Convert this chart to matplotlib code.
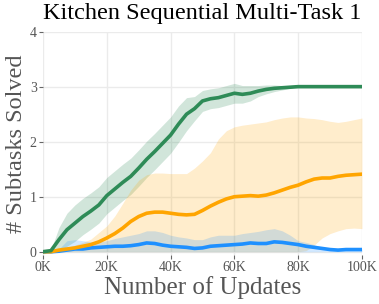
import matplotlib
matplotlib.use("Agg")
import matplotlib.pyplot as plt
import numpy as np

plt.rcParams['font.family'] = ['Liberation Serif', 'DejaVu Serif']

# updates, in thousands
steps = [0, 2.5, 5, 7.5, 10, 12.5, 15, 17.5, 20, 22.5, 25, 27.5, 30, 32.5, 35, 37.5,
         40, 42.5, 45, 47.5, 50, 52.5, 55, 57.5, 60, 62.5, 65, 67.5, 70, 72.5, 75, 77.5,
         80, 82.5, 85, 87.5, 90, 92.5, 95, 97.5, 100]

green_mean = [0, 0.02, 0.22, 0.4, 0.52, 0.64, 0.74, 0.85, 1.02, 1.14, 1.26, 1.37, 1.52, 1.68,
              1.82, 1.97, 2.12, 2.32, 2.5, 2.6, 2.74, 2.78, 2.8, 2.84, 2.88, 2.86, 2.88, 2.92,
              2.95, 2.97, 2.98, 2.99, 3.0, 3.0, 3.0, 3.0, 3.0, 3.0, 3.0, 3.0, 3.0]
green_err = [0, 0.02, 0.22, 0.3, 0.33, 0.33, 0.33, 0.33, 0.33, 0.33, 0.33, 0.33, 0.33, 0.33,
             0.33, 0.33, 0.33, 0.33, 0.3, 0.22, 0.19, 0.18, 0.18, 0.18, 0.18, 0.16, 0.14, 0.1,
             0.08, 0.06, 0.04, 0.02, 0, 0, 0, 0, 0, 0, 0, 0, 0]

orange_mean = [0, 0, 0.03, 0.05, 0.07, 0.1, 0.13, 0.18, 0.25, 0.33, 0.43, 0.55, 0.64, 0.7,
               0.72, 0.72, 0.7, 0.68, 0.67, 0.68, 0.75, 0.83, 0.9, 0.96, 1.0, 1.01, 1.02, 1.01,
               1.03, 1.07, 1.12, 1.17, 1.21, 1.27, 1.32, 1.34, 1.34, 1.37, 1.39, 1.4, 1.41]
orange_hi = [0, 0, 0.03, 0.08, 0.12, 0.17, 0.23, 0.35, 0.47, 0.65, 0.88, 1.12, 1.3, 1.4,
             1.43, 1.43, 1.42, 1.42, 1.42, 1.52, 1.65, 1.8, 2.05, 2.2, 2.27, 2.3, 2.32, 2.34,
             2.36, 2.4, 2.43, 2.45, 2.45, 2.43, 2.42, 2.4, 2.37, 2.35, 2.37, 2.4, 2.43]
orange_lo = [0, 0, 0, 0, 0, 0, 0, 0, 0, 0, 0, 0, 0, 0, 0, 0, 0, 0, 0, 0, 0, 0, 0, 0, 0, 0,
             0, 0, 0, 0, 0, 0, 0, 0.02, 0.12, 0.25, 0.33, 0.38, 0.42, 0.43, 0.42]

blue_mean = [0, 0, 0.01, 0.03, 0.05, 0.05, 0.07, 0.08, 0.09, 0.1, 0.1, 0.11, 0.13, 0.16,
             0.15, 0.12, 0.1, 0.09, 0.08, 0.06, 0.07, 0.1, 0.11, 0.12, 0.13, 0.14, 0.16, 0.15,
             0.15, 0.18, 0.17, 0.15, 0.13, 0.1, 0.08, 0.06, 0.04, 0.03, 0.04, 0.04, 0.04]
blue_hi = [0, 0, 0.05, 0.2, 0.22, 0.2, 0.18, 0.18, 0.2, 0.24, 0.27, 0.3, 0.33, 0.38, 0.38,
           0.35, 0.3, 0.27, 0.25, 0.22, 0.22, 0.27, 0.3, 0.3, 0.3, 0.33, 0.35, 0.37, 0.4, 0.42,
           0.38, 0.3, 0.2, 0.17, 0.13, 0.08, 0.05, 0.04, 0.05, 0.05, 0.05]
blue_lo = [0] * len(steps)

green = '#2e8b57'
orange = '#ffa500'
blue = '#1e90ff'

x = np.array(steps) * 1000
gm = np.array(green_mean)
ge = np.array(green_err)

fig = plt.figure(figsize=(3.79, 3.04), dpi=100)
ax = fig.add_axes([0.1135, 0.161, 0.8415, 0.735])

ax.fill_between(x, gm - ge, gm + ge, color=green, alpha=0.22, lw=0)
ax.fill_between(x, orange_lo, orange_hi, color=orange, alpha=0.2, lw=0)
ax.fill_between(x, blue_lo, blue_hi, color=blue, alpha=0.2, lw=0)

ax.plot(x, blue_mean, color=blue, lw=2.6)
ax.plot(x, orange_mean, color=orange, lw=2.6)
ax.plot(x, gm, color=green, lw=2.6)

ax.set_xlim(0, 100000)
ax.set_ylim(-0.06, 4.0)
ax.set_xticks([0, 20000, 40000, 60000, 80000, 100000])
ax.set_xticklabels(['0K', '20K', '40K', '60K', '80K', '100K'])
ax.set_yticks([0, 1, 2, 3, 4])

ax.grid(True, color='#ebebeb', lw=1)
ax.set_axisbelow(True)
for s in ax.spines.values():
    s.set_visible(False)
ax.tick_params(axis='both', length=3, width=0.8, color='#666666',
               labelcolor='#555555', labelsize=10, pad=1.5)

ax.set_title('Kitchen Sequential Multi-Task 1', fontsize=17.5, pad=9)
ax.set_xlabel('Number of Updates', fontsize=18, color='#555555', labelpad=1)
ax.set_ylabel('# Subtasks Solved', fontsize=17.5, color='#555555', labelpad=2)

fig.savefig('out.png', dpi=100)
